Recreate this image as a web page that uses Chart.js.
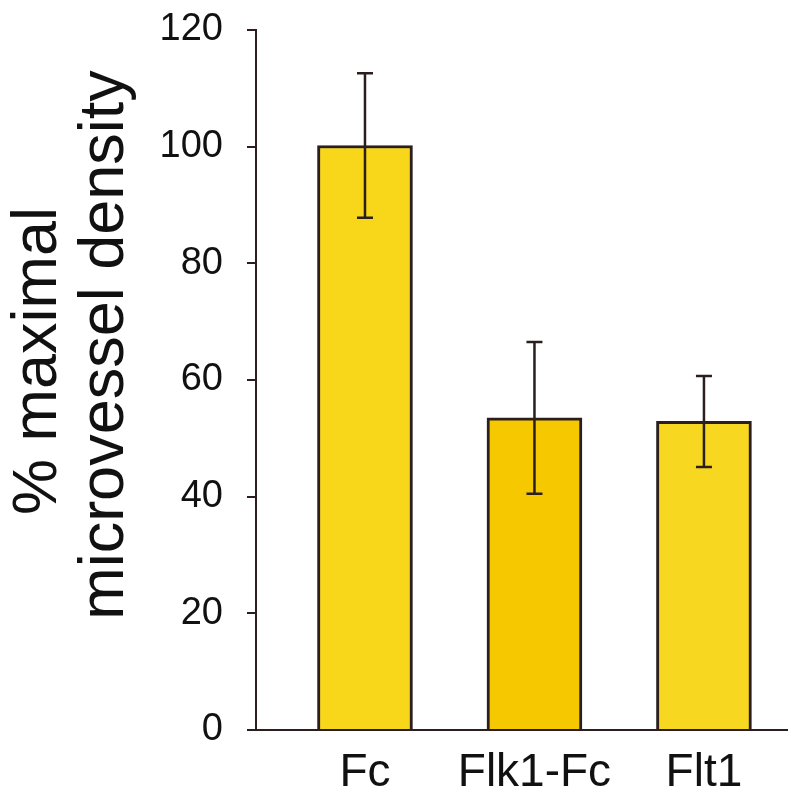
<!DOCTYPE html>
<html>
<head>
<meta charset="utf-8">
<script src="https://cdn.jsdelivr.net/npm/chart.js@4"></script>
<style>
  html, body { margin: 0; padding: 0; background: #fff; }
  #wrap { width: 795px; height: 810px; }
</style>
</head>
<body>
<div id="wrap"><canvas id="myChart" width="795" height="810"></canvas></div>
<script>
// groups along the x-axis
var groups = ['Fc', 'Flk1-Fc', 'Flt1'];
// % maximal microvessel density, with error bar half-widths
var density = [100.2, 53.5, 52.9];
var errors = [12.4, 13.0, 7.8];
// y-axis ticks
var yTicks = [0, 20, 40, 60, 80, 100, 120];

var ink = '#2a1e1e';
var barColors = ['#f8d61a', '#f6c800', '#f8d720'];

// error bars drawn through the y scale
var errorBars = {
  id: 'errorBars',
  afterDatasetsDraw: function (chart) {
    var ctx = chart.ctx;
    var y = chart.scales.y;
    var meta = chart.getDatasetMeta(0);
    ctx.save();
    ctx.strokeStyle = ink;
    ctx.lineWidth = 2.5;
    meta.data.forEach(function (bar, i) {
      var top = y.getPixelForValue(density[i] + errors[i]);
      var bot = y.getPixelForValue(density[i] - errors[i]);
      ctx.beginPath();
      ctx.moveTo(bar.x, top);
      ctx.lineTo(bar.x, bot);
      ctx.moveTo(bar.x - 8, top);
      ctx.lineTo(bar.x + 8, top);
      ctx.moveTo(bar.x - 8, bot);
      ctx.lineTo(bar.x + 8, bot);
      ctx.stroke();
    });
    ctx.restore();
  }
};

// two-line rotated y title
var yTitle = {
  id: 'yTitle',
  afterDraw: function (chart) {
    var ctx = chart.ctx;
    ctx.save();
    ctx.fillStyle = '#111';
    ctx.font = '63px "Liberation Sans", Arial, sans-serif';
    ctx.textAlign = 'center';
    ctx.translate(56, 361);
    ctx.rotate(-Math.PI / 2);
    ctx.fillText('% maximal', 0, 0);
    ctx.restore();
    ctx.save();
    ctx.fillStyle = '#111';
    ctx.font = '63px "Liberation Sans", Arial, sans-serif';
    ctx.textAlign = 'center';
    ctx.translate(123, 345);
    ctx.rotate(-Math.PI / 2);
    ctx.fillText('microvessel density', 0, 0);
    ctx.restore();
  }
};

var ctx = document.getElementById('myChart');
var myChart = new Chart(ctx, {
  type: 'bar',
  data: {
    datasets: [{
      data: density.map(function (v, i) { return { x: i, y: v }; }),
      backgroundColor: barColors,
      borderColor: ink,
      borderWidth: 3,
      borderSkipped: 'bottom',
      barThickness: 95
    }]
  },
  options: {
    responsive: false,
    animation: false,
    layout: { padding: { top: 30, right: 8, left: 0, bottom: 0 } },
    plugins: {
      legend: { display: false },
      tooltip: { enabled: false }
    },
    scales: {
      x: {
        type: 'linear',
        offset: false,
        min: -0.643,
        max: 2.49,
        afterBuildTicks: function (scale) {
          scale.ticks = groups.map(function (g, i) { return { value: i }; });
        },
        afterFit: function (scale) {
          scale.height = 80;
          scale.paddingLeft = 0;
          scale.paddingRight = 0;
        },
        grid: { drawOnChartArea: false, drawTicks: false },
        border: { display: true, color: ink, width: 2 },
        ticks: {
          autoSkip: false,
          maxRotation: 0,
          padding: 16,
          color: '#111',
          font: { family: '"Liberation Sans", Arial, sans-serif', size: 46 },
          callback: function (v) { return groups[v]; }
        }
      },
      y: {
        min: 0,
        max: 120,
        afterBuildTicks: function (scale) {
          scale.ticks = yTicks.map(function (t) { return { value: t }; });
        },
        afterFit: function (scale) {
          scale.width = 256;
          scale.paddingTop = 0;
          scale.paddingBottom = 0;
        },
        grid: { drawOnChartArea: false, drawTicks: true, tickLength: 9, color: ink, lineWidth: 2 },
        border: { display: true, color: ink, width: 2 },
        ticks: {
          padding: 24,
          color: '#111',
          font: { family: '"Liberation Sans", Arial, sans-serif', size: 38 }
        }
      }
    }
  },
  plugins: [errorBars, yTitle]
});
</script>
</body>
</html>
